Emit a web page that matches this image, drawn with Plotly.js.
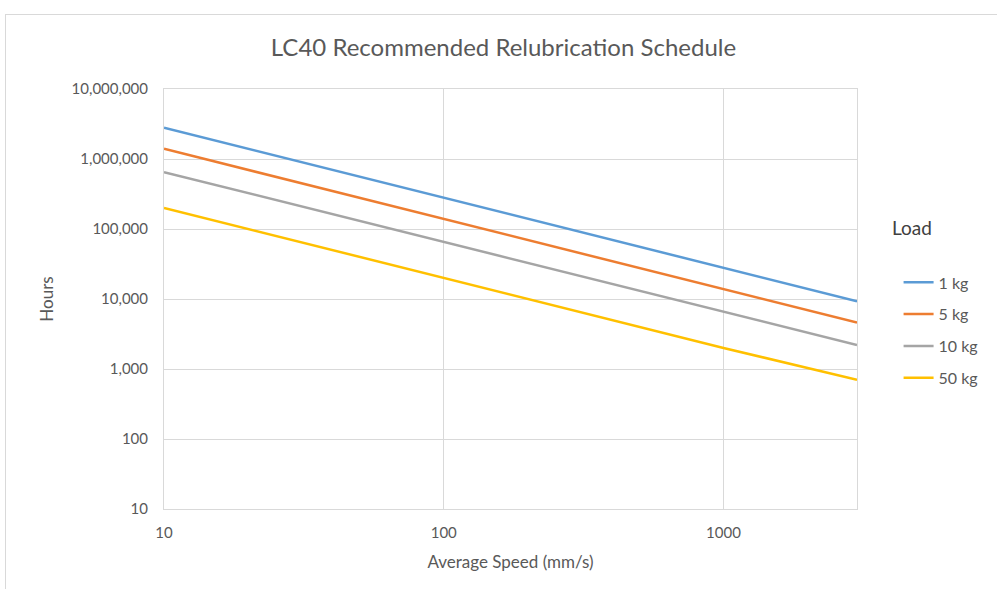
<!DOCTYPE html>
<html>
<head>
<meta charset="utf-8">
<script src="https://cdn.plot.ly/plotly-3.0.1.min.js"></script>
<style>
html,body{margin:0;padding:0;background:#fff;}
#chart{width:997px;height:589px;}
#frame{position:absolute;left:5px;top:14px;width:1200px;height:800px;border-top:1px solid #d9d9d9;border-left:1px solid #d9d9d9;pointer-events:none;}
</style>
</head>
<body>
<div id="chart"></div>
<div id="frame"></div>
<script>
const speeds = [10, 100, 1000, 3000];
const hours1kg = [2800000, 280000, 28000, 9300];
const hours5kg = [1400000, 140000, 14000, 4600];
const hours10kg = [650000, 65000, 6500, 2200];
const hours50kg = [200000, 20000, 2000, 700];
const seriesNames = ["1 kg", "5 kg", "10 kg", "50 kg"];
const seriesColors = ["#5B9BD5", "#ED7D31", "#A5A5A5", "#FFC000"];
const allSeries = [hours1kg, hours5kg, hours10kg, hours50kg];

const FONT = "Lato, 'Open Sans', sans-serif";
const traces = allSeries.map((ys, i) => ({
  x: speeds, y: ys, type: "scatter", mode: "lines",
  name: seriesNames[i], legendgroup: "g" + i,
  line: {color: seriesColors[i], width: 2.5}
}));

const layout = {
  width: 997, height: 589,
  margin: {l: 164, r: 140, t: 89, b: 80},
  paper_bgcolor: "#fff", plot_bgcolor: "#fff",
  font: {family: FONT, color: "#595959", size: 15},
  title: {text: "LC40 Recommended Relubrication Schedule", x: 0.505, xanchor: "center", y: 0.92, yanchor: "middle",
          font: {family: FONT, size: 24, color: "#595959"}},
  xaxis: {type: "log", range: [1, Math.log10(3000)], dtick: 1, tickformat: "d",
          showgrid: true, gridcolor: "#d9d9d9", gridwidth: 1,
          showline: true, linecolor: "#d9d9d9", mirror: true, zeroline: false,
          ticks: "", ticklabelstandoff: 10, tickfont: {size: 15, color: "#595959"},
          title: {text: "Average Speed (mm/s)", font: {size: 17, color: "#595959"}, standoff: 16}},
  yaxis: {type: "log", range: [1, 7], dtick: 1, tickformat: ",d",
          showgrid: true, gridcolor: "#d9d9d9", gridwidth: 1,
          showline: true, linecolor: "#d9d9d9", mirror: true, zeroline: false,
          ticks: "", ticklabelstandoff: 12, tickfont: {size: 15, color: "#595959"},
          title: {text: "Hours", font: {size: 17, color: "#595959"}, standoff: 13}},
  showlegend: true,
  legend: {x: 1.06, xanchor: "left", y: 0.58, yanchor: "top", traceorder: "grouped", tracegroupgap: 8,
           font: {size: 16, color: "#595959"}, bgcolor: "rgba(0,0,0,0)"},
  annotations: [{text: "Load", xref: "paper", yref: "paper", x: 1.047, xanchor: "left", y: 0.67, yanchor: "middle",
                 showarrow: false, font: {size: 19, color: "#404040", family: FONT}}]
};

Plotly.newPlot("chart", traces, layout, {displayModeBar: false, staticPlot: true});
</script>
</body>
</html>
